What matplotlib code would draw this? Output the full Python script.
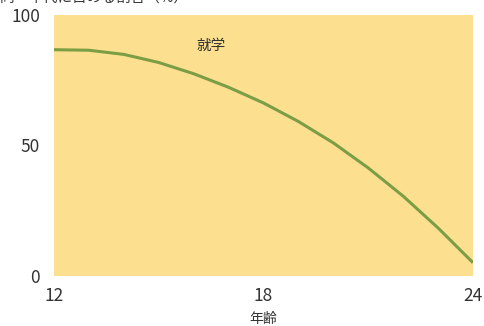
import matplotlib
matplotlib.use("Agg")
import matplotlib.pyplot as plt

plt.rcParams['font.family'] = ['Noto Sans CJK JP', 'DejaVu Sans']

ages = [12, 13, 14, 15, 16, 17, 18, 19, 20, 21, 22, 23, 24]
share = [86.7, 86.5, 84.9, 81.8, 77.5, 72.3, 66.3, 59.2, 51.0, 41.4, 30.6, 18.4, 5.1]
xticks = [12, 18, 24]
yticks = [0, 50, 100]
series_label = "就学"
xlabel = "年齢"
ylabel = "同一年代に占める割合（%）"

W, H = 484, 326
fig = plt.figure(figsize=(W / 100, H / 100), dpi=100)
ax = fig.add_axes([54 / W, 1 - 276 / H, (473 - 54) / W, (276 - 15) / H])
ax.set_facecolor('#FDE08F')
ax.plot(ages, share, color='#7B9E45', lw=2.2, solid_capstyle='butt', solid_joinstyle='round')
ax.set_xlim(12, 24)
ax.set_ylim(0, 100)
ax.set_xticks(xticks)
ax.set_yticks(yticks)
for s in ax.spines.values():
    s.set_visible(False)
ax.tick_params(length=0, labelsize=12.5, colors='#333333')
ax.tick_params(axis='y', pad=10)
ax.tick_params(axis='x', pad=8)
ax.set_xlabel(xlabel, fontsize=10, color='#333333', labelpad=5)
ax.text(16.5, 88, series_label, fontsize=10.5, color='#333333', ha='center', va='center')
fig.text(0 / W, 1 - 5 / H, ylabel, fontsize=10.5, color='#333333', ha='left', va='bottom')
fig.savefig('out.png', dpi=100)
